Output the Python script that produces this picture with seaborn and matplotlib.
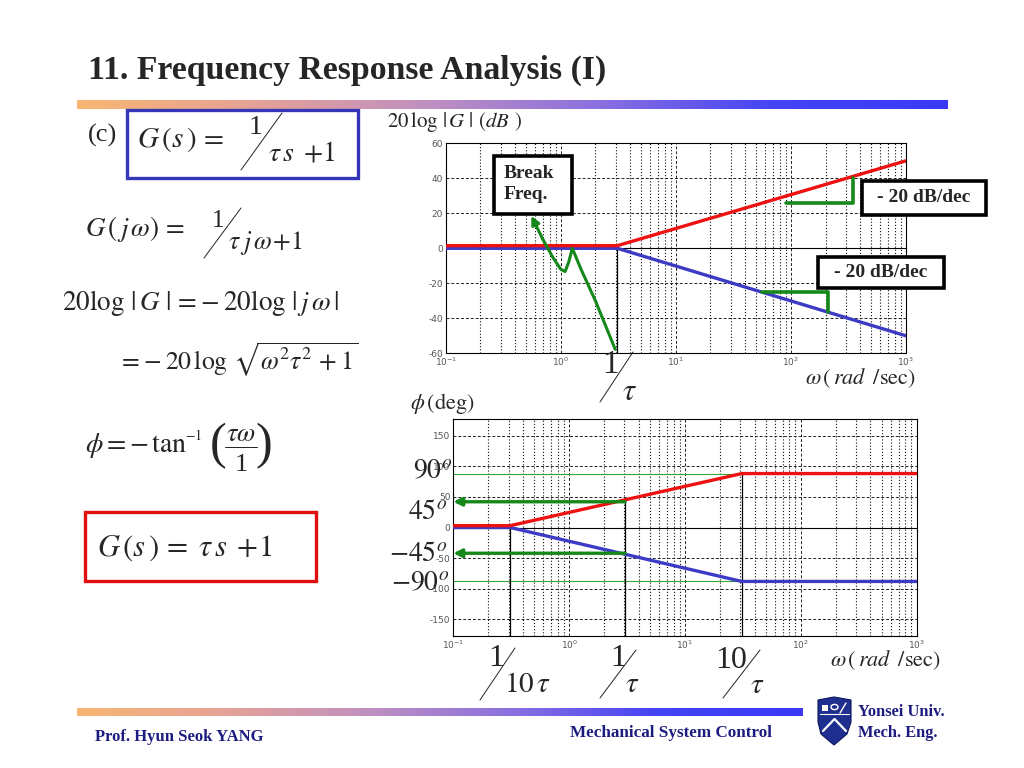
import matplotlib
matplotlib.use("Agg")
import matplotlib.pyplot as plt
import seaborn as sns
import numpy as np
from matplotlib.lines import Line2D
from matplotlib.patches import Rectangle, Polygon, Circle
from matplotlib.colors import LinearSegmentedColormap
from matplotlib.ticker import LogLocator, NullFormatter, FixedLocator

# ---- magnitude plot (asymptotes) ----
mag_w = [0.1, 3.1, 1000]
mag_red = [1.5, 1.5, 50]
mag_blue = [0, 0, -50]
mag_ticks = [-60, -40, -20, 0, 20, 40, 60]
break_w = 3.1

# green pointer curve to the break frequency
ptr_w = [0.555, 0.70, 0.85, 1.0, 1.09, 1.17, 1.26, 1.5, 2.0, 2.97]
ptr_db = [18.5, 5, -5, -12, -13.3, -8, 0, -12, -30, -57.7]

# slope triangles
tri_up_w = [91, 343, 343]
tri_up_db = [25.7, 25.7, 40]
tri_lo_w = [56.6, 211, 211]
tri_lo_db = [-24.8, -24.8, -36.2]

# ---- phase plot ----
ph_w = [0.1, 0.31, 31, 1000]
ph_red = [3, 3, 88, 88]
ph_blue = [0, 0, -88, -88]
ph_ticks = [-150, -100, -50, 0, 50, 100, 150]
ph_mark_w = [0.31, 3.05, 31]
ph_mark_top = [0, 44, 88]
ph_arrow_deg = [42, -42]
ph_guide_deg = [88, -88]

RED = "#ee1111"
BLUE = "#3b3bc6"
GREEN = "#16881a"
NAVY = "#1c1c80"

sns.set_style("white")
plt.rcParams['font.family'] = ['DejaVu Sans']
plt.rcParams['mathtext.fontset'] = 'stix'
plt.rcParams['axes.unicode_minus'] = False
SERIF = ['Liberation Serif', 'DejaVu Serif']

fig = plt.figure(figsize=(10.24, 7.68), dpi=100)


def fx(x):
    return x / 1024


def fy(y):
    return 1 - y / 768


def ftext(x, y, s, **kw):
    kw.setdefault('va', 'center')
    fig.text(fx(x), fy(y), s, **kw)


def fline(xs, ys, color='#222', lw=0.7):
    fig.add_artist(Line2D([fx(x) for x in xs], [fy(y) for y in ys],
                          transform=fig.transFigure, color=color, lw=lw))


def slash(x0, y0, x1, y1, lw=0.7):
    fline([x0, x1], [y0, y1], lw=lw)


def fbox(x0, y0, x1, y1, ec, lw, fc='none', z=5):
    fig.add_artist(Rectangle((fx(x0), fy(y1)), (x1 - x0) / 1024, (y1 - y0) / 768,
                             transform=fig.transFigure, fill=fc != 'none',
                             fc=fc, ec=ec, lw=lw, zorder=z))


def gradient_bar(x0, x1, y0, y1):
    cmap = LinearSegmentedColormap.from_list(
        "bar", ["#f8b672", "#e6a296", "#c090c0", "#8a70e0", "#4444f4", "#3a3af6"])
    bax = fig.add_axes([fx(x0), fy(y1), (x1 - x0) / 1024, (y1 - y0) / 768])
    bax.imshow(np.linspace(0, 1, 256)[None, :], aspect='auto', cmap=cmap)
    bax.axis('off')


def style_axes(ax, yticks, ylim):
    ax.set_xscale('log')
    ax.set_xlim(0.1, 1000)
    ax.set_ylim(*ylim)
    ax.xaxis.set_major_locator(LogLocator(base=10, numticks=10))
    ax.xaxis.set_minor_locator(LogLocator(base=10, subs=range(2, 10), numticks=10))
    ax.xaxis.set_minor_formatter(NullFormatter())
    ax.yaxis.set_major_locator(FixedLocator(yticks))
    ax.grid(True, which='major', axis='both', ls=(0, (3, 2)), color='#222', lw=0.7)
    ax.grid(True, which='minor', axis='x', ls=(0, (1, 1.8)), color='#111', lw=0.8)
    ax.axhline(0, color='k', lw=0.8, zorder=1)
    ax.tick_params(length=0, labelsize=6.5, labelcolor='#555', pad=2)
    for sp in ax.spines.values():
        sp.set_color('k')
        sp.set_linewidth(0.8)
    ax.set_xlabel('')
    ax.set_ylabel('')


# ---- header ----
ftext(88, 70, "11. Frequency Response Analysis (I)", family=SERIF,
      fontweight='bold', fontsize=24.3)
gradient_bar(77, 948, 100, 109)

# ---- left equations ----
ftext(88, 135, "(c)", family=SERIF, fontsize=19)
fbox(127, 110, 358, 178, '#3535b8', 2.4)
ftext(137, 140, r"$G\,(s\,)\,=$", fontsize=21)
ftext(256, 127, "1", family=SERIF, fontsize=20, ha='center')
slash(282, 113, 241, 170)
ftext(268, 153, r"$\tau\,s\;+\!1$", fontsize=20)

ftext(85, 229, r"$G\,(\,j\,\omega)\,=$", fontsize=19.5)
ftext(218, 221, "1", family=SERIF, fontsize=18, ha='center')
slash(241, 208, 204, 258)
ftext(228, 243, r"$\tau\;j\,\omega\!+\!1$", fontsize=18.5)

ftext(62, 303, r"$20\log\,|\,G\,\,|\,=\!-20\log\,|\,j\,\omega\,|$", fontsize=19.5)
ftext(118, 360, r"$=\!-20\,\log\,\sqrt{\omega^2\tau^2\,+1}$", fontsize=18.5)

# phi = -tan^-1 (tau omega / 1)
ftext(85, 446, r"$\phi=-\,\mathrm{tan}$", fontsize=20)
ftext(185, 436, r"$-1$", fontsize=10)
ftext(218, 446, "(", family=SERIF, fontsize=36, fontweight='light', ha='center')
ftext(264, 446, ")", family=SERIF, fontsize=36, fontweight='light', ha='center')
ftext(241, 434, r"$\tau\omega$", fontsize=19, ha='center')
fline([225, 257], [447, 447], lw=0.7)
ftext(241, 465, "1", family=SERIF, fontsize=19, ha='center')

fbox(85, 512, 316, 581, '#e01010', 2.4)
ftext(97, 548, r"$G\,(s\,)\,=\;\tau\,s\;+\!1$", fontsize=22)

# ---- magnitude axes ----
ax1 = fig.add_axes([fx(445.7), fy(353.3), (906 - 445.7) / 1024, (353.3 - 143.3) / 768])
style_axes(ax1, mag_ticks, (-60, 60))
ax1.vlines(break_w, -60, 0, color='k', lw=0.9, zorder=3)
sns.lineplot(x=mag_w, y=mag_blue, ax=ax1, color=BLUE, lw=2.4, estimator=None, sort=False, zorder=4)
sns.lineplot(x=mag_w, y=mag_red, ax=ax1, color=RED, lw=2.4, estimator=None, sort=False, zorder=4)
sns.lineplot(x=ptr_w[1:], y=ptr_db[1:], ax=ax1, color=GREEN, lw=2.2, estimator=None, sort=False, zorder=5)
ax1.annotate("", xy=(ptr_w[0], ptr_db[0]), xytext=(ptr_w[1], ptr_db[1]),
             arrowprops=dict(arrowstyle='-|>', color=GREEN, lw=2.2, mutation_scale=12,
                             shrinkA=0, shrinkB=0), zorder=5)
sns.lineplot(x=tri_up_w, y=tri_up_db, ax=ax1, color=GREEN, lw=2.6, estimator=None, sort=False, zorder=5)
sns.lineplot(x=tri_lo_w, y=tri_lo_db, ax=ax1, color=GREEN, lw=2.6, estimator=None, sort=False, zorder=5)

ftext(387, 122, r"$20\,\log\,|\,G\,\,|\,\,(dB\;\,)$", fontsize=15)
ftext(805, 378, r"$\omega\,(\,rad\;\;/\mathrm{sec})$", fontsize=16)
ftext(610, 365, "1", family=SERIF, fontsize=24, ha='center')
slash(600, 402, 633, 352)
ftext(630, 392, r"$\tau$", fontsize=22, ha='center')

fbox(494, 156, 572, 214, 'k', 2.6, fc='white', z=6)
ftext(504, 184, "Break\nFreq.", family=SERIF, fontweight='bold', fontsize=14,
      linespacing=1.25, zorder=7)
fbox(862, 181, 986, 215, 'k', 2.6, fc='white', z=6)
ftext(924, 198, "- 20 dB/dec", family=SERIF, fontweight='bold', fontsize=14,
      ha='center', zorder=7)
fbox(818, 257, 944, 288, 'k', 2.6, fc='white', z=6)
ftext(881, 272, "- 20 dB/dec", family=SERIF, fontweight='bold', fontsize=14,
      ha='center', zorder=7)

# ---- phase axes ----
ax2 = fig.add_axes([fx(453.3), fy(636), (916.5 - 453.3) / 1024, (636 - 419) / 768])
style_axes(ax2, ph_ticks, (-177, 177))
for g in ph_guide_deg:
    ax2.hlines(g, 0.1, ph_mark_w[2], color='#3aa83a', lw=0.8, zorder=2)
for w, top in zip(ph_mark_w, ph_mark_top):
    ax2.vlines(w, -177, top, color='k', lw=0.9, zorder=3)
sns.lineplot(x=ph_w, y=ph_blue, ax=ax2, color=BLUE, lw=2.4, estimator=None, sort=False, zorder=4)
sns.lineplot(x=ph_w, y=ph_red, ax=ax2, color=RED, lw=2.4, estimator=None, sort=False, zorder=4)
for d in ph_arrow_deg:
    ax2.annotate("", xy=(0.1, d), xytext=(ph_mark_w[1], d),
                 arrowprops=dict(arrowstyle='-|>', color=GREEN, lw=2.4, mutation_scale=12,
                                 shrinkA=0, shrinkB=0), zorder=5)

ftext(410, 404, r"$\phi\,(\mathrm{deg})$", fontsize=16)
ftext(452, 470, r"$90^o$", fontsize=20, ha='right')
ftext(447, 511, r"$45^o$", fontsize=20, ha='right')
ftext(447, 553, r"$-45^o$", fontsize=20, ha='right')
ftext(449, 582, r"$-90^o$", fontsize=20, ha='right')

ftext(496, 659, "1", family=SERIF, fontsize=23, ha='center')
slash(480, 700, 515, 648)
ftext(528, 684, r"$10\,\tau$", fontsize=21, ha='center')
ftext(618, 659, "1", family=SERIF, fontsize=23, ha='center')
slash(600, 698, 636, 650)
ftext(632, 684, r"$\tau$", fontsize=21, ha='center')
ftext(731, 661, "10", family=SERIF, fontsize=23, ha='center')
slash(723, 698, 760, 650)
ftext(757, 685, r"$\tau$", fontsize=21, ha='center')
ftext(830, 660, r"$\omega\,(\,rad\;\;/\mathrm{sec})$", fontsize=16)

# ---- footer ----
gradient_bar(77, 803, 708, 716)
ftext(95, 737, "Prof. Hyun Seok YANG", family=SERIF, fontweight='bold',
      fontsize=12, color=NAVY)
ftext(671, 733, "Mechanical System Control", family=SERIF, fontweight='bold',
      fontsize=12.3, color=NAVY, ha='center')
ftext(858, 712, "Yonsei Univ.", family=SERIF, fontweight='bold', fontsize=11.8, color=NAVY)
ftext(858, 733, "Mech. Eng.", family=SERIF, fontweight='bold', fontsize=11.8, color=NAVY)

shield = [(818, 700), (834, 697), (851, 700), (851, 722), (847, 734),
          (834, 745), (821, 734), (818, 722)]
fig.add_artist(Polygon([(fx(x), fy(y)) for x, y in shield], closed=True,
                       transform=fig.transFigure, fc='#1f2f8f', ec='#0d1660', lw=0.8))
fig.add_artist(Rectangle((fx(822), fy(711)), 6 / 1024, 6 / 768, transform=fig.transFigure,
                         fc='white', ec='none'))
fig.add_artist(Circle((fx(834.5), fy(707)), 3.5 / 1024, transform=fig.transFigure,
                      fc='none', ec='white', lw=1.0))
fline([840, 846], [713, 703], color='white', lw=1.0)
fline([823, 834.5, 846], [731, 719, 731], color='white', lw=1.6)
fline([820, 849], [714, 714], color='white', lw=0.8)

fig.savefig("out.png", dpi=100)
